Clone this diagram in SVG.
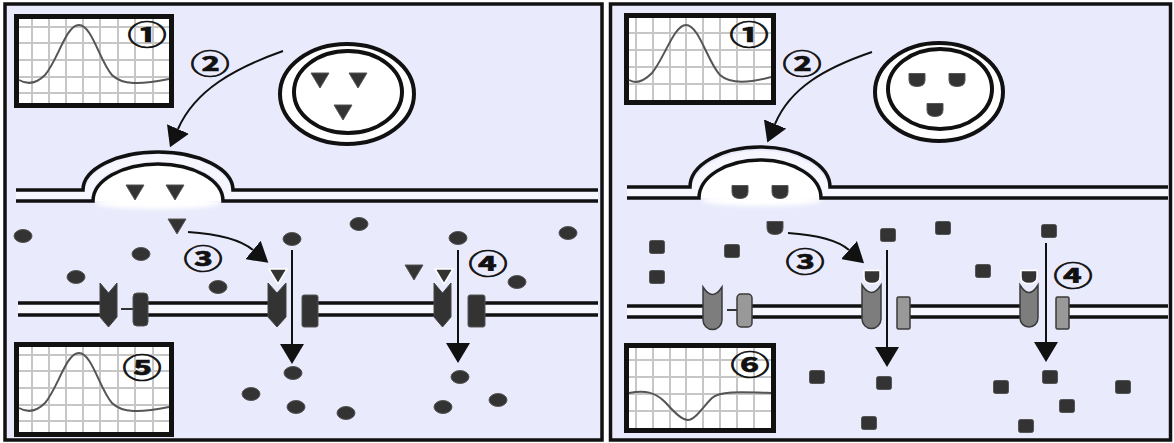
<svg xmlns="http://www.w3.org/2000/svg" xmlns:xlink="http://www.w3.org/1999/xlink" width="1174" height="443" viewBox="0 0 1174 443">
  <style>
    .panel { fill: #E9EBFC; stroke: #111; stroke-width: 3.5; }
    .gbox { fill: #fff; stroke: #111; stroke-width: 5; }
    .grid { fill: none; stroke: #c6c6c6; stroke-width: 2; }
    .trace { fill: none; stroke: #555; stroke-width: 2; }
    .mem { fill: none; stroke: #111; stroke-width: 3.5; }
    .band { fill: #fff; opacity: 0.55; }
    .ves { fill: #fff; stroke: #111; stroke-width: 4; }
    .flow { fill: none; stroke: #111; stroke-width: 2; marker-end: url(#head); }
    .mol { fill: #333; stroke: #555; stroke-width: 1; }
    .bound { fill: #333; stroke: #fff; stroke-width: 1.5; }
    .rcA { fill: #333; stroke: #444; stroke-width: 1; }
    .chA { fill: #333; stroke: #555; stroke-width: 1; }
    .rcB { fill: #7d7d7d; stroke: #3a3a3a; stroke-width: 1.5; }
    .chB { fill: #999; stroke: #3a3a3a; stroke-width: 1.5; }
    .num { font-family: "Noto Sans CJK JP", "DejaVu Sans", sans-serif; font-size: 27px; font-weight: 700; fill: #111; stroke: #111; stroke-width: 0.7; text-anchor: middle; dominant-baseline: central; }
  </style>
  <defs>
    <marker id="head" markerUnits="userSpaceOnUse" markerWidth="20" markerHeight="24" viewBox="0 0 20 24" refX="0" refY="12" orient="auto">
      <path d="M0,0 L20,12 L0,24 Z" fill="#111"/>
    </marker>
    <path id="tri" d="M-9,-7 H9 L0,8 Z"/>
    <path id="cup" d="M-8,-6.5 H8 V0 Q8,6.5 0,6.5 Q-8,6.5 -8,0 Z"/>
    <ellipse id="dot" rx="9" ry="6.5"/>
    <rect id="sq" x="-7.5" y="-6.5" width="15" height="13" rx="2"/>
    <filter id="soft" x="-20%" y="-100%" width="140%" height="300%">
      <feGaussianBlur stdDeviation="2"/>
    </filter>
  </defs>

  <!-- panel frames -->
  <rect class="panel" x="5" y="4" width="597" height="436"/>
  <rect class="panel" x="610.5" y="4" width="560" height="436"/>

  <!-- ===== left panel ===== -->
  <g id="graph-L1" transform="translate(14,14)">
    <rect class="gbox" x="2.5" y="2.5" width="155" height="89"/>
    <path class="grid" d="M18,5V89 M35,5V89 M52,5V89 M69,5V89 M86,5V89 M104,5V89 M121,5V89 M139,5V89 M5,13H155 M5,29H155 M5,46H155 M5,63H155 M5,79H155"/>
    <path class="trace" d="M5,66 C 12,70 21,71 31,61 C 44,46 52,11 65,11 C 78,11 86,48 98,61 C 108,71 126,71 155,65"/>
    <text class="num" transform="translate(133,19) scale(1.45,1)">①</text>
  </g>

  <g id="graph-L5" transform="translate(14,342)">
    <rect class="gbox" x="2.5" y="2.5" width="155" height="90"/>
    <path class="grid" d="M18,5V90 M35,5V90 M52,5V90 M69,5V90 M86,5V90 M104,5V90 M121,5V90 M139,5V90 M5,13H155 M5,29H155 M5,46H155 M5,63H155 M5,79H155"/>
    <path class="trace" d="M5,66 C 12,70 21,71 31,61 C 44,46 52,11 65,11 C 78,11 86,48 98,61 C 108,71 126,71 155,65"/>
    <text class="num" transform="translate(128,24) scale(1.45,1)">⑤</text>
  </g>

  <g id="vesicle-L">
    <ellipse class="ves" cx="347" cy="94" rx="67" ry="50"/>
    <ellipse class="ves" cx="348" cy="92" rx="54" ry="41"/>
    <use href="#tri" x="320" y="80" class="mol"/>
    <use href="#tri" x="358" y="80" class="mol"/>
    <use href="#tri" x="343" y="112" class="mol"/>
  </g>

  <g id="presynaptic-L">
    <path d="M93,201 A65,37 0 0 1 223,201 Z" fill="#fff"/>
    <ellipse cx="158" cy="203" rx="62" ry="6" fill="#fff" filter="url(#soft)"/>
    <path d="M16,195.5 H88 A70,37.5 0 0 1 228,195.5 H598" fill="none" stroke="#fff" stroke-width="8" opacity="0.55"/>
    <path class="mem" d="M16,190 H83 A75,38 0 0 1 233,190 H598"/>
    <path class="mem" d="M16,201 H93 A65,37 0 0 1 223,201 H598"/>
    <use href="#tri" x="135" y="192" class="mol"/>
    <use href="#tri" x="175" y="192" class="mol"/>
  </g>

  <g id="postsynaptic-L">
    <rect class="band" x="18" y="303" width="82" height="12"/>
    <rect class="band" x="148" y="303" width="120" height="12"/>
    <rect class="band" x="318" y="303" width="116" height="12"/>
    <rect class="band" x="485" y="303" width="113" height="12"/>
    <path class="mem" d="M18,303H100 M18,315H100 M148,303H268 M148,315H268 M318,303H434 M318,315H434 M485,303H598 M485,315H598"/>
    <path d="M121,309H133" stroke="#333" stroke-width="2"/>
    <path class="rcA" d="M100,283 L108.5,293 L117,283 L117,317 L108.5,327 L100,317 Z"/>
    <rect class="chA" x="133" y="293" width="15" height="33" rx="4"/>
    <path class="rcA" d="M268,283 L277,293 L286,283 L286,317 L277,327 L268,317 Z"/>
    <rect class="chA" x="302" y="295" width="16" height="32" rx="2"/>
    <path class="rcA" d="M434,283 L442.5,293 L451,283 L451,317 L442.5,327 L434,317 Z"/>
    <rect class="chA" x="468" y="295" width="17" height="32" rx="2"/>
    <use href="#tri" x="278" y="276" class="bound"/>
    <use href="#tri" x="444" y="276" class="bound"/>
  </g>

  <g id="particles-L" class="mol">
    <use href="#tri" x="177" y="226"/>
    <use href="#tri" x="414" y="272"/>
    <use href="#dot" x="23" y="236"/>
    <use href="#dot" x="141" y="254"/>
    <use href="#dot" x="76" y="277"/>
    <use href="#dot" x="218" y="287"/>
    <use href="#dot" x="292" y="239"/>
    <use href="#dot" x="293" y="373"/>
    <use href="#dot" x="251" y="394"/>
    <use href="#dot" x="296" y="407"/>
    <use href="#dot" x="359" y="224"/>
    <use href="#dot" x="458" y="238"/>
    <use href="#dot" x="568" y="233"/>
    <use href="#dot" x="517" y="282"/>
    <use href="#dot" x="460" y="377"/>
    <use href="#dot" x="443" y="407"/>
    <use href="#dot" x="498" y="400"/>
    <use href="#dot" x="346" y="413"/>
  </g>

  <!-- ===== right panel ===== -->
  <g id="graph-R1" transform="translate(624,13)">
    <rect class="gbox" x="2.5" y="2.5" width="147" height="87"/>
    <path class="grid" d="M12,5V87 M29,5V87 M46,5V87 M62,5V87 M79,5V87 M96,5V87 M113,5V87 M130,5V87 M5,20H147 M5,37H147 M5,54H147 M5,71H147"/>
    <path class="trace" d="M5,67 C 10,70 18,70 28,60 C 40,46 50,12 62,12 C 75,12 84,50 96,62 C 106,71 125,70 147,64"/>
    <text class="num" transform="translate(125,20) scale(1.45,1)">①</text>
  </g>

  <g id="graph-R6" transform="translate(624,343)">
    <rect class="gbox" x="2.5" y="2.5" width="147" height="85"/>
    <path class="grid" d="M12,5V85 M29,5V85 M46,5V85 M62,5V85 M79,5V85 M96,5V85 M113,5V85 M130,5V85 M5,17H147 M5,34H147 M5,51H147 M5,68H147"/>
    <path class="trace" d="M5,50 C 21,47 31,49 41,59 C 51,70 58,77 64,77 C 71,77 78,65 88,55 C 96,48 116,49 147,50"/>
    <text class="num" transform="translate(126,20) scale(1.45,1)">⑥</text>
  </g>

  <g id="vesicle-R">
    <ellipse class="ves" cx="939" cy="92" rx="64" ry="49"/>
    <ellipse class="ves" cx="940" cy="89" rx="52" ry="40"/>
    <use href="#cup" x="917" y="80" class="mol"/>
    <use href="#cup" x="957" y="80" class="mol"/>
    <use href="#cup" x="935" y="110" class="mol"/>
  </g>

  <g id="presynaptic-R">
    <path d="M699,198 A61,38 0 0 1 821,198 Z" fill="#fff"/>
    <ellipse cx="762" cy="200" rx="60" ry="6" fill="#fff" filter="url(#soft)"/>
    <path d="M627,192.5 H695 A65,38 0 0 1 825,192.5 H1168" fill="none" stroke="#fff" stroke-width="8" opacity="0.55"/>
    <path class="mem" d="M627,187 H690 A70,40 0 0 1 830,187 H1168"/>
    <path class="mem" d="M627,198 H699 A61,38 0 0 1 821,198 H1168"/>
    <use href="#cup" x="740" y="192" class="mol"/>
    <use href="#cup" x="780" y="192" class="mol"/>
  </g>

  <g id="postsynaptic-R">
    <rect class="band" x="627" y="306" width="76" height="11"/>
    <rect class="band" x="752" y="306" width="111" height="11"/>
    <rect class="band" x="910" y="306" width="111" height="11"/>
    <rect class="band" x="1069" y="306" width="99" height="11"/>
    <path class="mem" d="M627,306H703 M627,317H703 M752,306H863 M752,317H863 M910,306H1021 M910,317H1021 M1069,306H1168 M1069,317H1168"/>
    <path d="M727,310H737" stroke="#333" stroke-width="2"/>
    <path class="rcB" d="M703,287 L703,320 A9.5,9.5 0 0 0 722,320 L722,287 Q712.5,302 703,287 Z"/>
    <rect class="chB" x="737" y="294" width="15" height="33" rx="4"/>
    <path class="rcB" d="M862,285 L862,319 A9.5,9.5 0 0 0 881,319 L881,285 Q871.5,300 862,285 Z"/>
    <rect class="chB" x="897" y="297" width="13" height="32" rx="1.5"/>
    <path class="rcB" d="M1020,285 L1020,318 A9,9 0 0 0 1038,318 L1038,285 Q1029,300 1020,285 Z"/>
    <rect class="chB" x="1056" y="297" width="13" height="32" rx="1.5"/>
    <use href="#cup" x="872" y="277" class="bound"/>
    <use href="#cup" x="1029" y="277" class="bound"/>
  </g>

  <g id="particles-R" class="mol">
    <use href="#cup" x="775" y="228"/>
    <use href="#sq" x="657" y="247"/>
    <use href="#sq" x="732" y="251"/>
    <use href="#sq" x="657" y="277"/>
    <use href="#sq" x="888" y="235"/>
    <use href="#sq" x="817" y="377"/>
    <use href="#sq" x="884" y="383"/>
    <use href="#sq" x="869" y="423"/>
    <use href="#sq" x="943" y="228"/>
    <use href="#sq" x="1049" y="231"/>
    <use href="#sq" x="983" y="271"/>
    <use href="#sq" x="1050" y="377"/>
    <use href="#sq" x="1001" y="387"/>
    <use href="#sq" x="1123" y="387"/>
    <use href="#sq" x="1067" y="406"/>
    <use href="#sq" x="1026" y="426"/>
  </g>

  <!-- connectors -->
  <g id="connectors">
    <path class="flow" d="M283,51 C 235,68 195,90 178,129"/>
    <path class="flow" d="M188,232 Q 235,235 253,250"/>
    <path class="flow" d="M292,250 V344"/>
    <path class="flow" d="M458,250 V343"/>
    <path class="flow" d="M872,52 C 825,68 790,88 775,124"/>
    <path class="flow" d="M788,233 Q 833,236 849,250"/>
    <path class="flow" d="M887,250 V347"/>
    <path class="flow" d="M1046,243 V342"/>
  </g>

  <!-- step labels -->
  <g id="labels">
    <text class="num" transform="translate(210,62) scale(1.45,1)">②</text>
    <text class="num" transform="translate(203,257) scale(1.45,1)">③</text>
    <text class="num" transform="translate(488,262) scale(1.45,1)">④</text>
    <text class="num" transform="translate(802,62) scale(1.45,1)">②</text>
    <text class="num" transform="translate(805,260) scale(1.45,1)">③</text>
    <text class="num" transform="translate(1073,274) scale(1.45,1)">④</text>
  </g>
</svg>
